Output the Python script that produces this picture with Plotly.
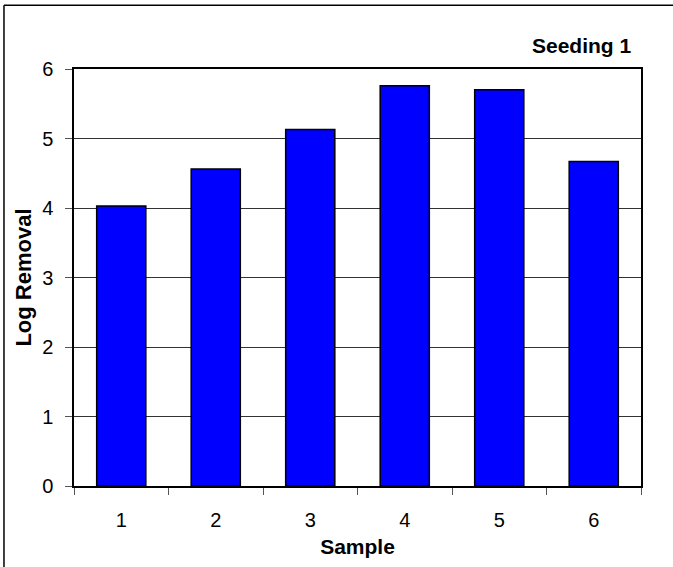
import plotly.graph_objects as go

samples = ["1", "2", "3", "4", "5", "6"]
log_removal = [4.03, 4.56, 5.13, 5.76, 5.70, 4.67]
y_ticks = [0, 1, 2, 3, 4, 5, 6]

font = "Liberation Sans, Arial, sans-serif"

fig = go.Figure()
fig.add_trace(go.Bar(
    x=samples, y=log_removal,
    marker=dict(color="#0000ff", line=dict(color="black", width=1.5)),
    width=0.52,
))

# outer chart border (left and top only, the rest is cropped off)
fig.add_shape(type="line", xref="paper", yref="paper", x0=-0.1235, x1=-0.1235, y0=-0.3, y1=1.1527,
              line=dict(color="black", width=1.5))
fig.add_shape(type="line", xref="paper", yref="paper", x0=-0.1235, x1=1.1, y0=1.1527, y1=1.1527,
              line=dict(color="black", width=1.5))

fig.add_annotation(text="<b>Seeding 1</b>", xref="paper", yref="paper", x=0.988, y=1.057,
                   xanchor="right", yanchor="middle", showarrow=False,
                   font=dict(family=font, size=21, color="black"))

fig.update_layout(
    width=673, height=567,
    margin=dict(l=74, r=32, t=69, b=79),
    paper_bgcolor="white", plot_bgcolor="white",
    showlegend=False,
    font=dict(family=font, size=20, color="black"),
    xaxis=dict(
        title=dict(text="<b>Sample</b>", font=dict(size=21), standoff=10),
        showline=True, linecolor="black", linewidth=1.5, mirror=True,
        ticks="outside", ticklen=7, tickcolor="#555", tickson="boundaries",
        ticklabelstandoff=15,
        showgrid=False,
    ),
    yaxis=dict(
        title=dict(text="<b>Log Removal</b>", font=dict(size=22), standoff=4),
        range=[0, 6], tickvals=y_ticks,
        showline=True, linecolor="black", linewidth=1.5, mirror=True,
        ticks="outside", ticklen=7, tickcolor="#555",
        ticklabelstandoff=8,
        showgrid=True, gridcolor="#333", gridwidth=1,
        zeroline=False,
    ),
)

# drop the default body margin so the figure sits at the window origin
fig.write_html("out.html", config={"displayModeBar": False},
               post_script="document.body.style.margin='0';")
